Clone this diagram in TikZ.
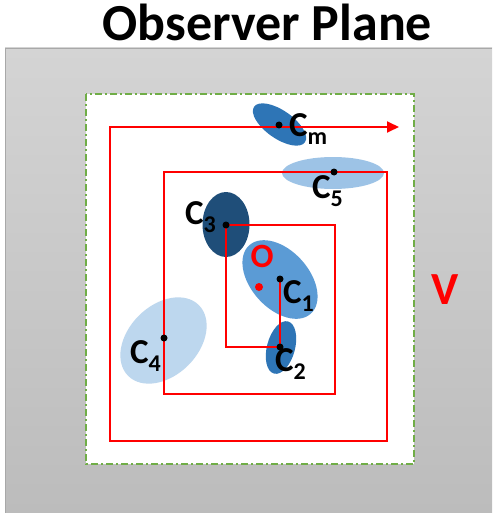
\documentclass[tikz,border=0pt]{standalone}
\usepackage{fontspec}
\setmainfont{Carlito}
\usetikzlibrary{arrows.meta}
\definecolor{gtop}{HTML}{D4D4D4}
\definecolor{gbot}{HTML}{BCBCBC}
\definecolor{gedge}{HTML}{A8A8A8}
\definecolor{grn}{HTML}{70AD47}
\definecolor{cmid}{HTML}{2E75B6}
\definecolor{clight}{HTML}{9DC3E6}
\definecolor{cpale}{HTML}{BDD7EE}
\definecolor{cdark}{HTML}{1F4E79}
\definecolor{cmed}{HTML}{5B9BD5}
\definecolor{red0}{HTML}{FF0000}
\newcommand\clab[1]{\fontsize{35}{35}\selectfont\bfseries C\raisebox{-8pt}{\fontsize{24}{24}\selectfont #1}}
\tikzset{
  dotc/.style={circle,fill=black,inner sep=0pt,minimum size=7pt},
  labc/.style={anchor=base west,inner sep=0pt},
  redpath/.style={draw=red0,line width=1.8pt,line join=miter},
}
\begin{document}
\begin{tikzpicture}[x=1pt,y=-1pt]
\useasboundingbox (0,0) rectangle (492,513);
% gray plane
\shade[top color=gtop,bottom color=gbot] (5,48) rectangle (492,513);
\draw[gedge,line width=0.8pt] (5,513) -- (5,48) -- (492,48);
% inner window
\draw[grn,fill=white,line width=1.5pt,dash pattern=on 7pt off 3pt on 2pt off 3pt] (86,94) rectangle (414,464);
% clusters
\fill[cmid,rotate around={-35:(279.5,124.5)}] (279.5,124.5) ellipse [x radius=31,y radius=14];
\fill[clight] (333,173) ellipse [x radius=51,y radius=16];
\fill[cdark] (226,224.5) ellipse [x radius=23.5,y radius=32.5];
\fill[cmed,rotate around={-48:(280,279.5)}] (280,279.5) ellipse [x radius=46,y radius=29];
\fill[cmid,rotate around={-105:(281,347.5)}] (281,347.5) ellipse [x radius=27,y radius=14];
\fill[cpale,rotate around={45:(163.5,340.5)}] (163.5,340.5) ellipse [x radius=50,y radius=35];
% path corners
\coordinate (c1) at (280,279);
\coordinate (c2) at (280,347);
\coordinate (c3) at (226,225);
\coordinate (c4) at (164,338);
\coordinate (c5) at (334,172);
\coordinate (cm) at (279,127);
\coordinate (p1) at (226,347);
\coordinate (p2) at (335,225);
\coordinate (p3) at (335,394);
\coordinate (p4) at (164,394);
\coordinate (p5) at (164,172);
\coordinate (p6) at (387,172);
\coordinate (p7) at (387,441);
\coordinate (p8) at (110,441);
\coordinate (p9) at (110,127);
\coordinate (pend) at (399,127);
\draw[redpath,-{Triangle[length=12pt,width=11pt]}]
  (c1) -- (c2) -- (p1) -- (c3) -- (p2) -- (p3) -- (p4) -- (c4) -- (p5) -- (c5) -- (p6) -- (p7) -- (p8) -- (p9) -- (cm) -- (pend);
% dots
\node[dotc] (d1) at (c1) {};
\node[dotc] (d2) at (c2) {};
\node[dotc] (d3) at (c3) {};
\node[dotc] (d4) at (c4) {};
\node[dotc] (d5) at (c5) {};
\node[dotc] (dm) at (279,125) {};
\node[circle,fill=red0,inner sep=0pt,minimum size=8pt] (odot) at (259,287) {};
% labels
\node[labc] (lm) at (289,137) {\clab{m}};
\node[labc] (l5) at (312,198) {\clab{5}};
\node[labc] (l3) at (185,224) {\clab{3}};
\node[labc] (l4) at (130,363) {\clab{4}};
\node[labc] (l2) at (275,371) {\clab{2}};
\node[labc] (l1) at (283,303) {\clab{1}};
\node[text=red0,font=\fontsize{34}{34}\selectfont\bfseries,inner sep=0pt,anchor=base] (olab) at (262,267) {O};
\node[text=red0,font=\fontsize{46}{46}\selectfont\bfseries,inner sep=0pt] (vlab) at (445,290) {V};
\node[font=\fontsize{52}{52}\selectfont\bfseries,inner sep=0pt,anchor=base] (title) at (267.5,41) {Observer Plane};
\end{tikzpicture}
\end{document}
